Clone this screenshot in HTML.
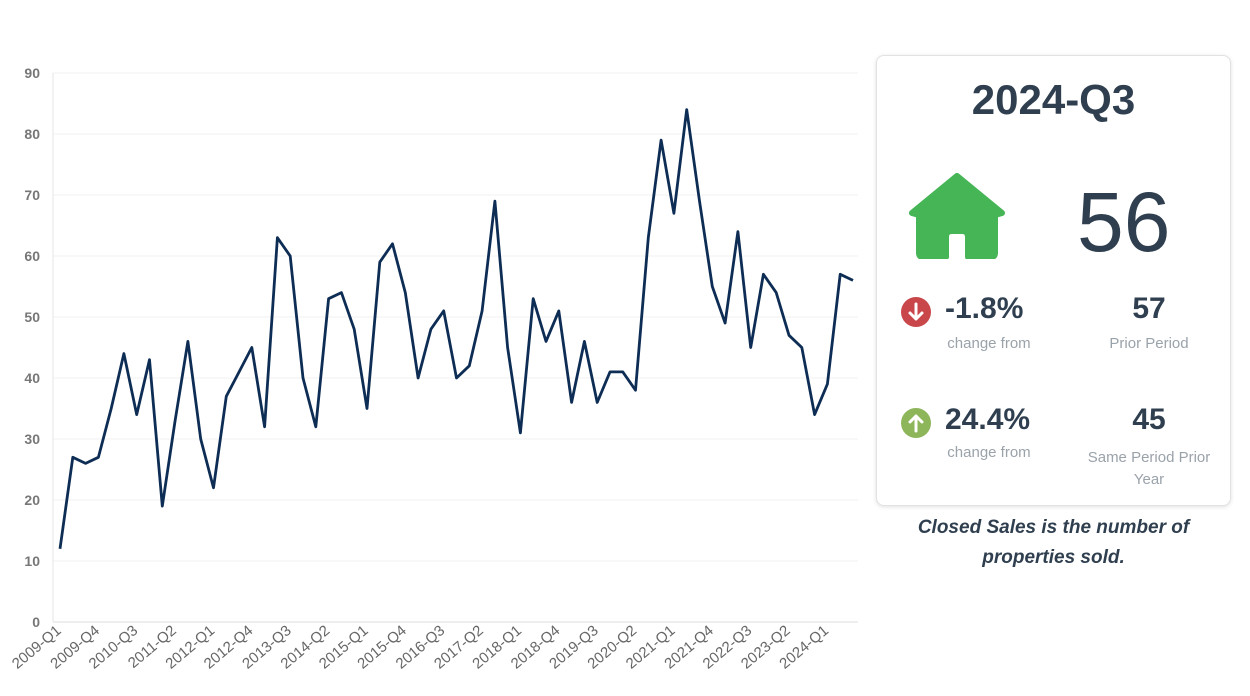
<!DOCTYPE html>
<html><head><meta charset="utf-8"><style>
body{margin:0;width:1250px;height:696px;background:#fff;font-family:"Liberation Sans",sans-serif;overflow:hidden;position:relative}
.card{position:absolute;left:876px;top:55px;width:353px;height:449px;border:1px solid #e2e2e2;border-radius:8px;box-shadow:0 1px 4px rgba(0,0,0,.12);background:#fff}
.t{position:absolute;color:#2f3f4f;white-space:nowrap}
.g{position:absolute;color:#9aa2aa;font-size:15px;text-align:center}
</style></head><body>
<svg width="1250" height="696" style="position:absolute;left:0;top:0" id="s" font-family="Liberation Sans, sans-serif"></svg>
<div class="card">
<div class="t" style="left:0;width:353px;text-align:center;top:20px;font-size:42px;font-weight:bold">2024-Q3</div>
<svg style="position:absolute;left:32px;top:117px" width="96" height="86" viewBox="0 0 96 86"><path d="M48 3 L93 40 L86 42 L86 80 Q86 84 82 84 L59 84 L59 64 Q59 58 53 58 L43 58 Q37 58 37 64 L37 84 L14 84 Q10 84 10 80 L10 42 L3 40 Z" fill="#45b555" stroke="#45b555" stroke-width="6" stroke-linejoin="round"/></svg>
<div class="t" style="left:200px;top:118px;font-size:84px">56</div>
<svg style="position:absolute;left:23px;top:240px" width="32" height="32"><circle cx="16" cy="16" r="15" fill="#c9474a"/><path d="M16 8v15M10 17l6 6 6-6" stroke="#fff" stroke-width="3" fill="none" stroke-linecap="round" stroke-linejoin="round"/></svg>
<div class="t" style="left:68px;top:236px;font-size:30px;font-weight:bold">-1.8%</div>
<div class="g" style="left:48px;width:128px;top:279px">change from</div>
<div class="t" style="left:212px;width:120px;text-align:center;top:236px;font-size:30px;font-weight:bold">57</div>
<div class="g" style="left:202px;width:140px;top:279px">Prior Period</div>
<svg style="position:absolute;left:23px;top:351px" width="32" height="32"><circle cx="16" cy="16" r="15" fill="#8db55a"/><path d="M16 24V9M10 15l6-6 6 6" stroke="#fff" stroke-width="3" fill="none" stroke-linecap="round" stroke-linejoin="round"/></svg>
<div class="t" style="left:68px;top:347px;font-size:30px;font-weight:bold">24.4%</div>
<div class="g" style="left:48px;width:128px;top:388px">change from</div>
<div class="t" style="left:212px;width:120px;text-align:center;top:347px;font-size:30px;font-weight:bold">45</div>
<div class="g" style="left:196px;width:152px;top:391px;line-height:22px;white-space:normal">Same Period Prior Year</div>
</div>
<div class="t" style="left:876px;width:355px;text-align:center;top:513px;font-size:19px;font-weight:bold;font-style:italic;line-height:30px;white-space:normal">Closed Sales is the number of properties sold.</div>
<script>
var d=[12,27,26,27,35,44,34,43,19,33,46,30,22,37,41,45,32,63,60,40,32,53,54,48,35,59,62,54,40,48,51,40,42,51,69,45,31,53,46,51,36,46,36,41,41,38,63,79,67,84,69,55,49,64,45,57,54,47,45,34,39,57,56];
var s=document.getElementById('s'),h='';
function Y(v){return 622-v*6.1}
for(var v=10;v<=90;v+=10)h+='<line x1="53" x2="858" y1="'+Y(v)+'" y2="'+Y(v)+'" stroke="#f0f0f0"/>';
h+='<line x1="53" x2="858" y1="622" y2="622" stroke="#ddd"/><line x1="53" x2="53" y1="73" y2="622" stroke="#e6e6e6"/>';
for(var v=0;v<=90;v+=10)h+='<text x="40" y="'+(Y(v)+5)+'" text-anchor="end" font-size="14" font-weight="bold" fill="#777">'+v+'</text>';
var p='';for(var i=0;i<d.length;i++){var x=60+i*12.79;p+=(i?'L':'M')+x.toFixed(1)+' '+Y(d[i]).toFixed(1);}
h+='<path d="'+p+'" fill="none" stroke="#0e2d55" stroke-width="2.8" stroke-linejoin="round"/>';
for(var i=0;i<d.length;i+=3){var x=62+i*12.79,yr=2009+Math.floor(i/4),q=i%4+1;
h+='<text transform="translate('+x.toFixed(1)+',632) rotate(-40)" text-anchor="end" font-size="15" fill="#666">'+yr+'-Q'+q+'</text>';}
s.innerHTML=h;
</script>
</body></html>
